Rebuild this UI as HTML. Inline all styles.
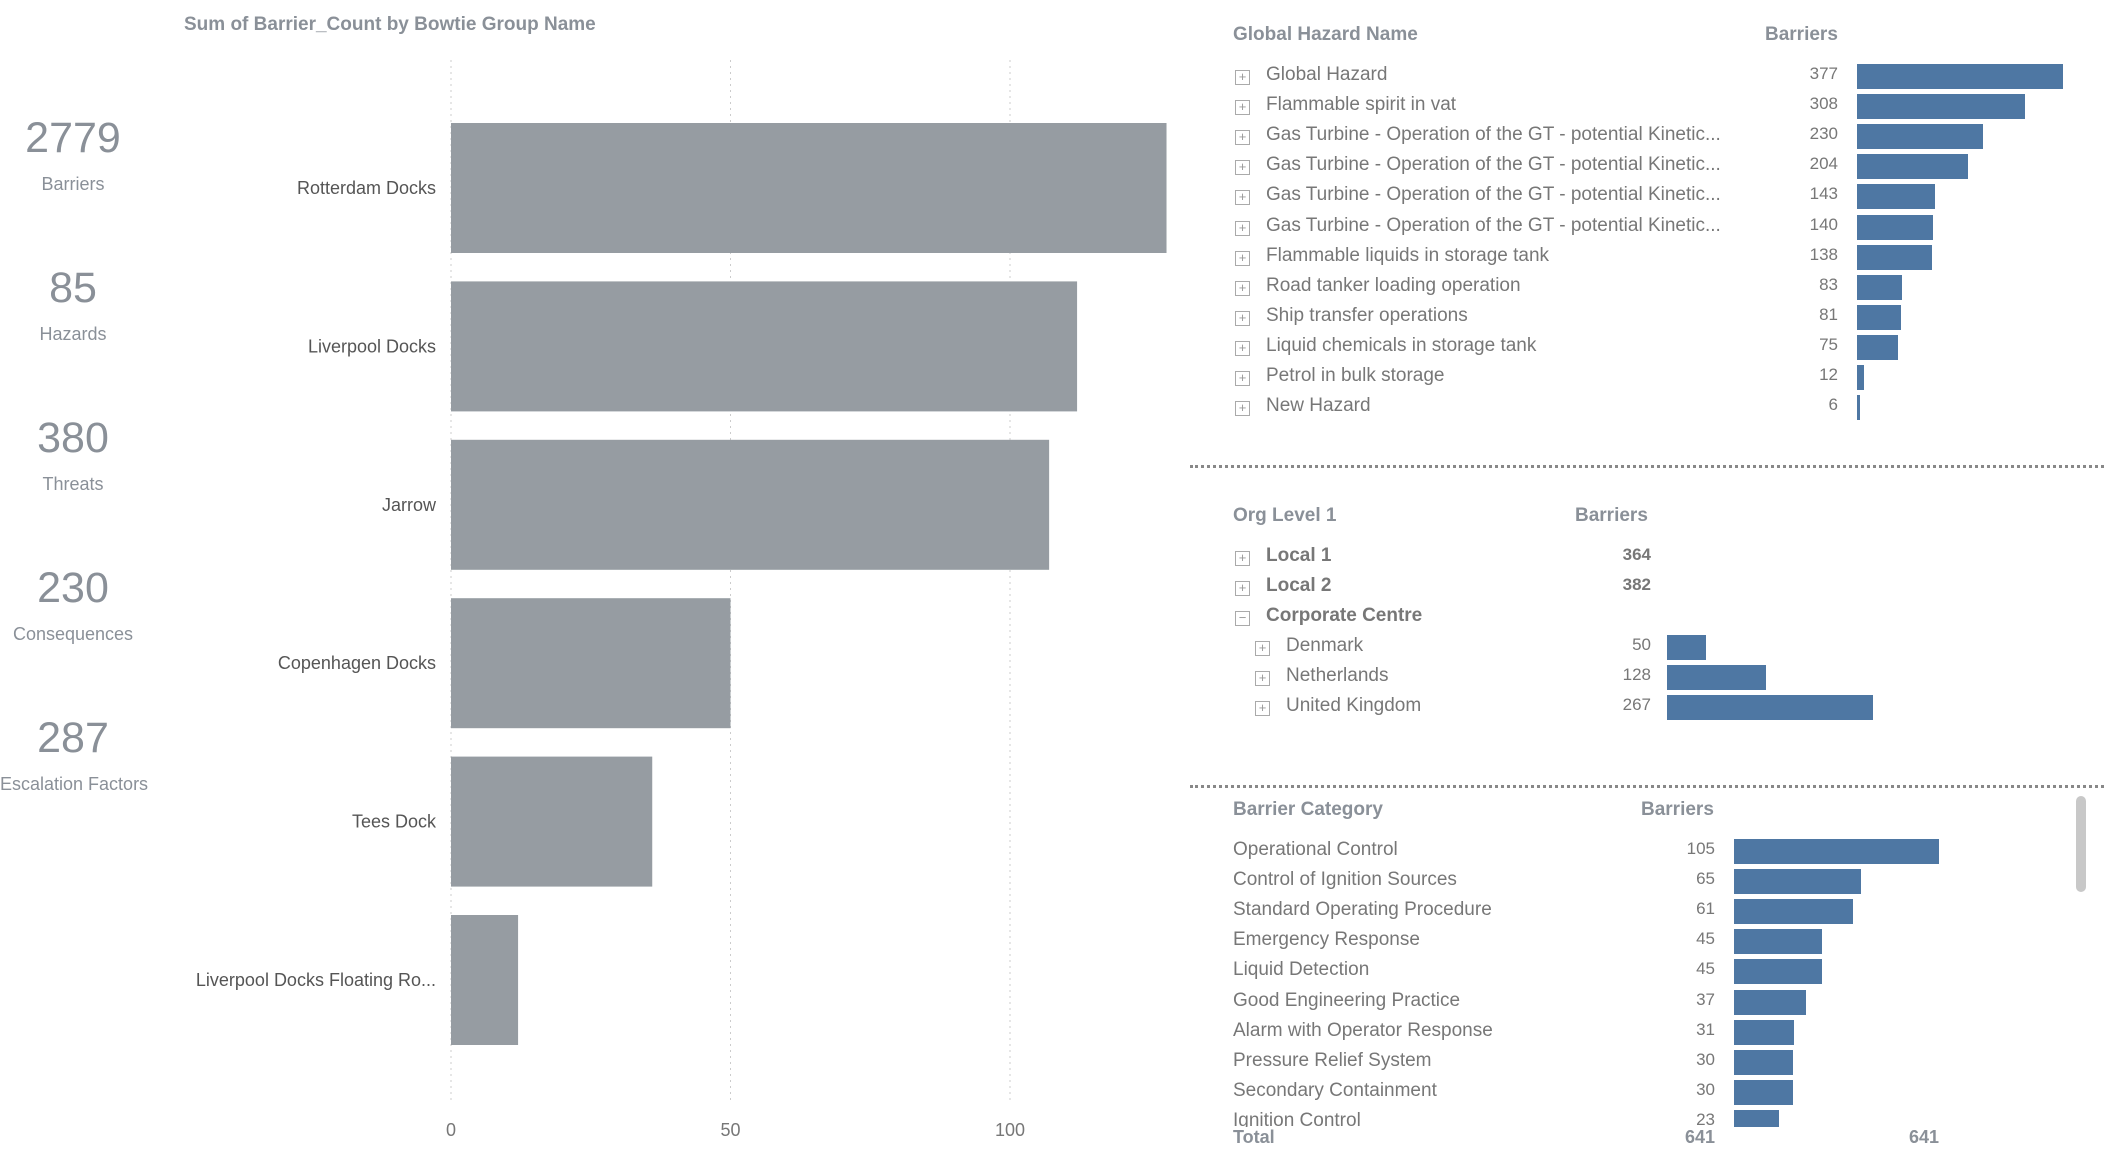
<!DOCTYPE html>
<html><head><meta charset="utf-8"><style>
body{margin:0;width:2104px;height:1163px;background:#fff;font-family:"Liberation Sans",sans-serif;position:relative;overflow:hidden;color:#666}
.a{position:absolute;white-space:nowrap}
.kv{width:146px;text-align:center;font-size:43px;color:#8a9098;left:0}
.kl{width:146px;text-align:center;font-size:18px;color:#8a9098;left:0}
.hd{font-weight:bold;font-size:19px;color:#8a9098}
.rw{font-size:19px;color:#777}
.ic{width:13px;height:13px;border:1px solid #aaa;font-size:13px;line-height:12px;text-align:center;color:#999}
.sep{position:absolute;border-top:3px dotted #888;height:0}
</style></head><body>
<div class="a kv" style="top:114px">2779</div>
<div class="a kl" style="top:174px">Barriers</div>
<div class="a kv" style="top:264px">85</div>
<div class="a kl" style="top:324px">Hazards</div>
<div class="a kv" style="top:414px">380</div>
<div class="a kl" style="top:474px">Threats</div>
<div class="a kv" style="top:564px">230</div>
<div class="a kl" style="top:624px">Consequences</div>
<div class="a kv" style="top:714px">287</div>
<div class="a kl" style="top:774px">Escalation Factors</div>
<div class="a hd" style="left:184px;top:14px">Sum of Barrier_Count by Bowtie Group Name</div>
<svg id="main" class="a" style="left:0;top:0" width="1180" height="1163"></svg>
<div class="sep" style="left:1190px;width:914px;top:465px"></div>
<div class="sep" style="left:1190px;width:914px;top:785px"></div>
<div id="right"></div>
<div class="a" style="left:2076px;top:796px;width:10px;height:96px;background:#c8c8c8;border-radius:5px"></div>
<script>
const groups=["Rotterdam Docks","Liverpool Docks","Jarrow","Copenhagen Docks","Tees Dock","Liverpool Docks Floating Ro..."];
const groupVals=[128,112,107,50,36,12];
const xTicks=[0,50,100];
const hazNames=["Global Hazard","Flammable spirit in vat","Gas Turbine - Operation of the GT - potential Kinetic...","Gas Turbine - Operation of the GT - potential Kinetic...","Gas Turbine - Operation of the GT - potential Kinetic...","Gas Turbine - Operation of the GT - potential Kinetic...","Flammable liquids in storage tank","Road tanker loading operation","Ship transfer operations","Liquid chemicals in storage tank","Petrol in bulk storage","New Hazard"];
const hazVals=[377,308,230,204,143,140,138,83,81,75,12,6];
const orgNames=["Denmark","Netherlands","United Kingdom"];
const orgVals=[50,128,267];
const catNames=["Operational Control","Control of Ignition Sources","Standard Operating Procedure","Emergency Response","Liquid Detection","Good Engineering Practice","Alarm with Operator Response","Pressure Relief System","Secondary Containment","Ignition Control"];
const catVals=[105,65,61,45,45,37,31,30,30,23];
const NS="http://www.w3.org/2000/svg";
const svg=document.getElementById('main');
const x=v=>451+v*5.59;
function mk(t,a){const e=document.createElementNS(NS,t);for(const k in a)e.setAttribute(k,a[k]);svg.appendChild(e);return e;}
xTicks.forEach(t=>{
 const l=mk('line',{x1:x(t),x2:x(t),y1:60,y2:1100,stroke:'#ccc','stroke-dasharray':'2,4'});
 
 
 const tx=mk('text',{x:x(t),y:1136,'text-anchor':'middle','font-size':18,fill:'#777'});
 tx.textContent=t;
 
 
});
groups.forEach((g,i)=>{
 const y=123+i*158.4;
 const r=mk('rect',{x:x(0),y:y,width:x(groupVals[i])-x(0),height:130,fill:'#969ca2'});
 
 
 const t=mk('text',{x:436,y:y+71,'text-anchor':'end','font-size':18,fill:'#555'});
 t.textContent=g;
 
 
});
const R=document.getElementById('right');
function div(cls,style,txt,name,inter){const d=document.createElement('div');d.className='a '+cls;d.style.cssText=style;d.textContent=txt;
 
 
 R.appendChild(d);return d;}
function bar(l,t,w,h,name){const d=div('','left:'+l+'px;top:'+t+'px;width:'+w+'px;height:'+h+'px;background:#4e77a3','',name,true);}
// hazard table
div('hd','left:1233px;top:24px','Global Hazard Name','hazard-header',false);
div('hd','left:1765px;top:24px','Barriers','hazard-barriers-header',true);
hazNames.forEach((n,i)=>{const y=76+i*30.1;
 div('ic','left:1235px;top:'+(y-6)+'px','+','hazard-expand-'+i,true);
 div('rw','left:1266px;top:'+(y-12)+'px',n,'hazard-name-'+i,false);
 div('rw','left:1740px;width:98px;text-align:right;top:'+(y-12)+'px;font-size:17px',hazVals[i],'hazard-value-'+i,false);
 bar(1857,y-12,Math.max(2,hazVals[i]*0.546),25,'hazard-bar-'+i);
});
// org table
div('hd','left:1233px;top:505px','Org Level 1','org-header',false);
div('hd','left:1575px;top:505px','Barriers','org-barriers-header',true);
[["Local 1",364],["Local 2",382],["Corporate Centre",""]].forEach((r,i)=>{const y=557+i*30.1;
 div('ic','left:1235px;top:'+(y-6)+'px',i==2?'−':'+','org-expand-'+i,true);
 div('rw','left:1266px;top:'+(y-12)+'px;font-weight:bold;color:#777',r[0],'org-name-'+i,false);
 div('rw','left:1560px;width:91px;text-align:right;top:'+(y-12)+'px;font-weight:bold;font-size:17px',r[1],'org-value-'+i,false);
});
orgNames.forEach((n,i)=>{const y=647+i*30.1;
 div('ic','left:1255px;top:'+(y-6)+'px','+','org-sub-expand-'+i,true);
 div('rw','left:1286px;top:'+(y-12)+'px',n,'org-sub-name-'+i,false);
 div('rw','left:1560px;width:91px;text-align:right;top:'+(y-12)+'px;font-size:17px',orgVals[i],'org-sub-value-'+i,false);
 bar(1667,y-12,orgVals[i]*0.772,25,'org-bar-'+i);
});
// category table
div('hd','left:1233px;top:799px','Barrier Category','category-header',false);
div('hd','left:1641px;top:799px','Barriers','category-barriers-header',true);
const clip=document.createElement('div');clip.className='a';clip.style.cssText='left:1233px;top:830px;width:800px;height:297px;overflow:hidden';


R.appendChild(clip);
catNames.forEach((n,i)=>{const y=21+i*30.1;
 const a=document.createElement('div');a.className='a rw';a.style.cssText='left:0;top:'+(y-12)+'px';a.textContent=n;
 
 
 clip.appendChild(a);
 const b=document.createElement('div');b.className='a rw';b.style.cssText='left:380px;width:102px;text-align:right;font-size:17px;top:'+(y-12)+'px';b.textContent=catVals[i];
 
 
 clip.appendChild(b);
 const c=document.createElement('div');c.className='a';c.style.cssText='left:501px;top:'+(y-12)+'px;height:25px;background:#4e77a3;width:'+(catVals[i]*1.95)+'px';
 
 
 clip.appendChild(c);
});
div('hd','left:1233px;top:1127px;font-size:18px','Total','total-label',false);
div('hd','left:1615px;width:100px;text-align:right;top:1127px;font-size:18px','641','total-value',false);
div('hd','left:1839px;width:100px;text-align:right;top:1127px;font-size:18px','641','total-bar-value',false);
</script>
</body></html>
